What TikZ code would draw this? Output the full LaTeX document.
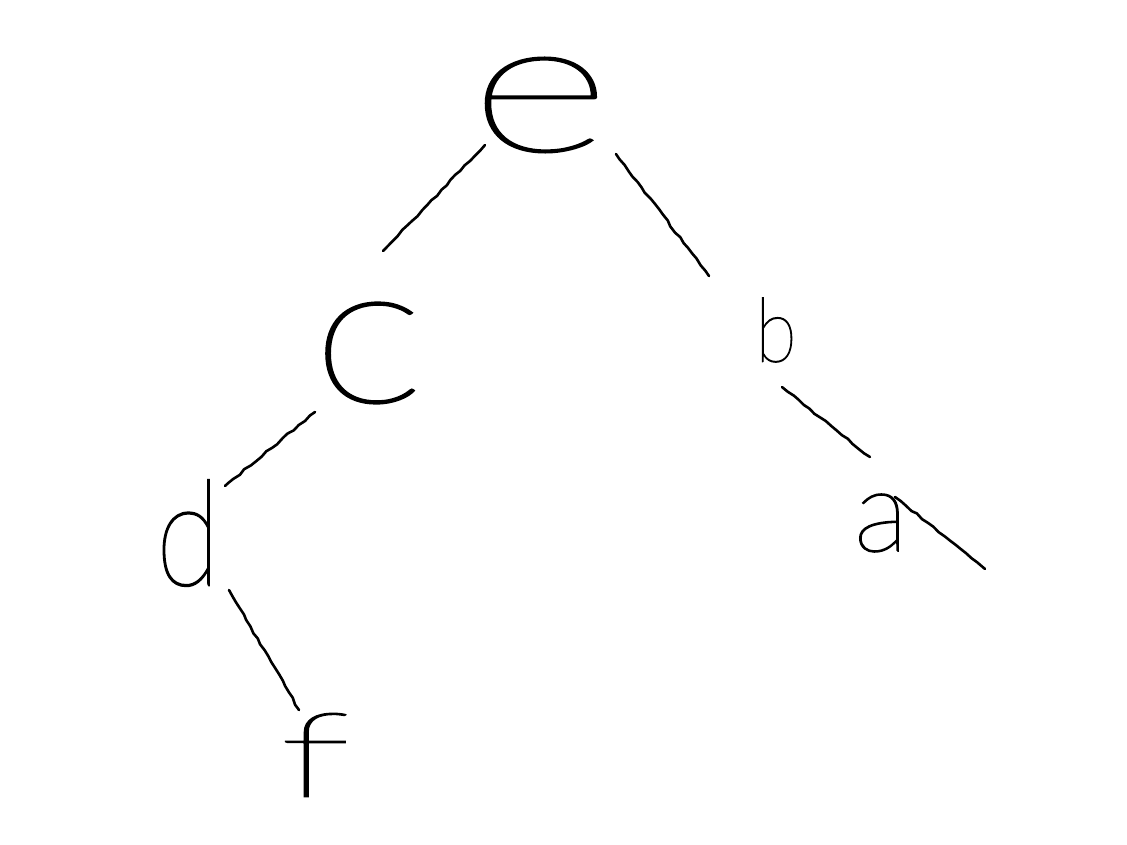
\documentclass[tikz,border=0pt]{standalone}
\usepackage{graphicx}
\usepackage{fontspec}
\newfontfamily\hand{Lato}[UprightFont={* Thin},FakeBold=1.2]
\usetikzlibrary{calc,decorations.pathmorphing}
\begin{document}
\begin{tikzpicture}[x=1pt,y=-1pt,
  letter/.style={inner sep=0pt,font=\hand},
  edge/.style={line width=2.6pt,line cap=round,line join=round,
    decorate,decoration={random steps,segment length=7pt,amplitude=0.9pt}}]
\useasboundingbox (0,0) rectangle (1127,845);
\node[letter,font=\hand\fontsize{188}{188}\selectfont] (e) at (540,105) {\scalebox{1.45}[1]{e}};
\node[letter,font=\hand\fontsize{200}{200}\selectfont] (c) at (368,353) {\scalebox{1.2}[1]{c}};
\node[letter,font=\hand\fontsize{89}{89}\selectfont] (b) at (776,330) {\scalebox{0.85}[1]{b}};
\node[letter,font=\hand\fontsize{147}{147}\selectfont] (d) at (188,533) {\scalebox{0.8}[1]{d}};
\node[letter,font=\hand\fontsize{115}{115}\selectfont] (a) at (881,523) {a};
\node[letter,font=\hand\fontsize{118}{118}\selectfont] (f) at (315,755) {\scalebox{1.8}[1]{f}};
\coordinate (aend) at (985,569);
\draw[edge] ($(e)+(-55,40)$) -- ($(c)+(15,-102)$);
\draw[edge] ($(e)+(76,49)$) -- ($(b)+(-67,-54)$);
\draw[edge] ($(c)+(-53,59)$) -- ($(d)+(37,-47)$);
\draw[edge] ($(b)+(6,57)$) -- ($(a)+(-11,-66)$);
\draw[edge] ($(d)+(41,57)$) -- ($(f)+(-16,-45)$);
\draw[edge] ($(a)+(14,-26)$) -- (aend);
\end{tikzpicture}
\end{document}
